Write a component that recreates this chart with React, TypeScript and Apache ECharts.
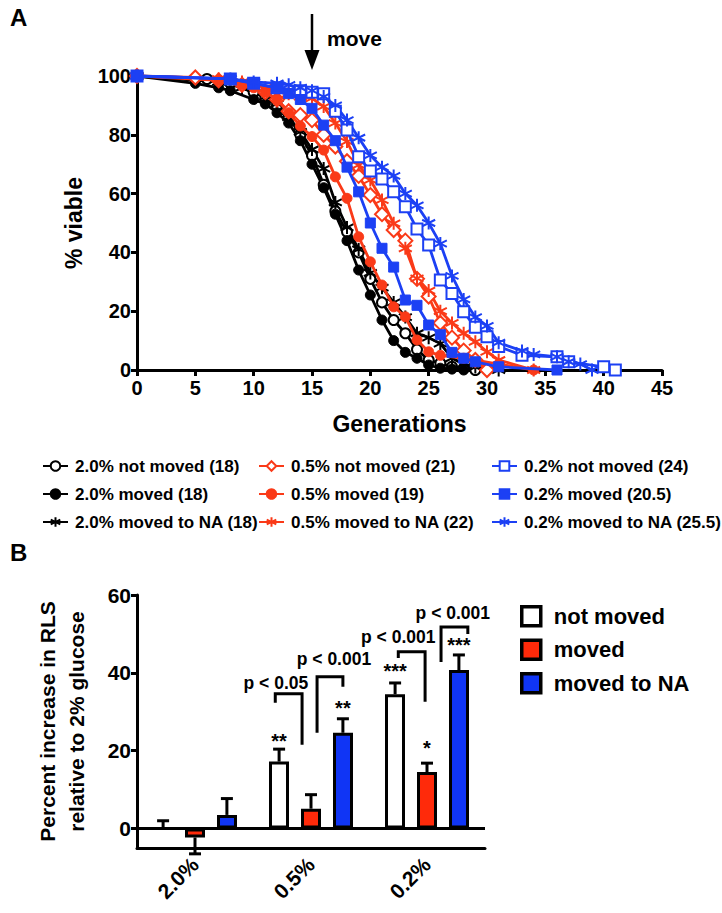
import React, { useEffect, useRef } from "react";
import * as echarts from "echarts";

const FONT = "Liberation Sans, Arial, Helvetica, sans-serif";
const RED = "#fa3a18";
const BLUE = "#1c40f4";
const BLACK = "#000000";
const BAR_RED = "#ff2a0a";
const BAR_BLUE = "#1035f5";

// ---------- Panel A: survival curves [generation, % viable] ----------
const g20NotMoved = [[0,100],[6,99],[8,97.5],[10,94.5],[11,92.5],[12,90],[13,86],[14,80],[15,73],[16,63],[17,54],[18,47],[19,40],[20,31],[21,23],[22,17],[23,12.5],[24,7],[25,3.4],[26,2.3],[27,1.1],[28,0.6],[29,0]];
const g20Moved = [[0,100],[5,97.5],[7,96],[8,95],[10,92],[11,90.5],[12,87.5],[13,84],[14,78],[15,70],[16,62],[17,53],[18,44],[19,34],[20,25.5],[21,17],[22,10],[23,6],[24,4],[25,1.7],[26,0.6],[27,0.3],[28,0]];
const g20NA = [[0,100],[7,98],[9,96],[11,93],[12,90.5],[13,86],[14,81],[15,75],[16,68.5],[17,57],[18,48.5],[19,41],[20,33],[21,28],[22,23],[23,18],[24,12.5],[25,11],[26,9],[27,4],[28,2],[29,1],[31,0]];
const g05NotMoved = [[0,100],[5,99.5],[7,98.5],[9,97],[11,94.5],[12,92],[13,88],[14,86.7],[15,85],[16,80],[17,76],[18,71],[19,66],[20,59.5],[21,53],[22,47.6],[23,44],[24,31],[25,25],[26,16],[27,11],[28,6.6],[29,3.4],[30,0]];
const g05Moved = [[0,100],[7,98.5],[9,97],[10,96],[11,94.5],[12,92],[13,87.5],[14,83],[15,79.4],[16,74.8],[17,65.7],[18,58.4],[19,45.3],[20,36.8],[21,28.9],[22,21.5],[23,18.1],[24,10.2],[25,6.2],[26,5],[28,4],[31,2],[34,0]];
const g05NA = [[0,100],[7,99],[9,98],[11,96],[12,95],[13,94],[14,93],[15,92.4],[16,89.6],[17,84],[18,77.7],[19,69.7],[20,64.6],[21,57.8],[22,49.9],[23,41.4],[24,31.2],[25,27],[26,20],[27,16],[28,12.5],[29,9.6],[30,6.2],[31,3.4],[34,0]];
const g02NotMoved = [[0,100],[8,99],[10,97.5],[12,96],[14,95],[15,94.5],[16,94],[17,88],[18,81.6],[19,72.5],[20,67.7],[21,65],[22,60.6],[23,55.5],[24,48],[25,42.5],[26,30.6],[27,26],[28,19.8],[29,14.5],[30,11.3],[31,8],[33,5],[36,4.5],[37,2.8],[40,1.1],[41,0]];
const g02Moved = [[0,100],[8,99],[10,97.5],[12,96],[13,94],[14,92],[15,89],[16,83.3],[17,78],[18,69],[19,60.6],[20,50],[21,41.4],[22,35],[23,23.8],[24,22],[25,15.3],[26,12],[27,6],[28,4],[29,2.8],[31,1.1],[36,0]];
const g02NA = [[0,100],[8,99],[10,98],[12,97.5],[13,97],[14,96],[15,95],[16,93],[17,90],[18,85],[19,79],[20,73],[21,69],[22,66],[23,60],[24,56],[25,50],[26,43],[27,32],[28,24],[29,18],[30,15],[31,9.3],[33,6.5],[34,5.3],[36,4.5],[37,2.8],[38,2],[39,0]];

const namesA = [
  "2.0% not moved (18)", "2.0% moved (18)", "2.0% moved to NA (18)",
  "0.5% not moved (21)", "0.5% moved (19)", "0.5% moved to NA (22)",
  "0.2% not moved (24)", "0.2% moved (20.5)", "0.2% moved to NA (25.5)",
];
const moveAt = 15; // generation of the move arrow

// ---------- Panel B: bars ----------
const bCategories = ["2.0%", "0.5%", "0.2%"];
const bNames = ["not moved", "moved", "moved to NA"];
const bNotMoved = [0, 17.2, 34.5];
const bNotMovedTip = [2.0, 20.4, 37.4];
const bMoved = [-2.3, 5.1, 14.5];
const bMovedTip = [-6.5, 8.7, 16.8];
const bNA = [3.5, 24.6, 40.7];
const bNATip = [7.7, 28.2, 44.6];
const bTicks = [0, 20, 40, 60];
// stars: [category, bar slot (-1,0,1), y, text]
const bStars = [[1, -1, 22.6, "**"], [1, 1, 31, "**"], [2, -1, 40.6, "***"], [2, 0, 20.6, "*"], [2, 1, 47.2, "***"]];
// brackets: [category, left slot, right slot, left end y, top y, right end y, label y, label slot, label]
const bBrackets = [
  [1, -1.12, -0.28, 32.3, 34.6, 21.5, 37.3, -1.1, "p < 0.05"],
  [1, 0.19, 1.0, 24.6, 39.0, 36.4, 43.5, 0.72, "p < 0.001"],
  [2, -0.9, -0.06, 43.8, 45.4, 32.6, 49.1, -0.9, "p < 0.001"],
  [2, 0.44, 1.28, 42.8, 51.8, 50.0, 55.3, 0.81, "p < 0.001"],
];

const ASTERISK = "path://M10,0L10,20M1.34,5L18.66,15M1.34,15L18.66,5";

function mkLine(name: string, data: number[][], color: string, symbol: string, size: number, bw: number, z: number) {
  return {
    type: "line", name, data, xAxisIndex: 0, yAxisIndex: 0,
    symbol, symbolSize: size, showSymbol: true, color,
    lineStyle: { color, width: 2.8 },
    itemStyle: { color, borderColor: color, borderWidth: bw },
    emphasis: { disabled: true }, z,
  };
}

export default function App() {
  const ref = useRef<HTMLDivElement>(null);
  useEffect(() => {
    if (!ref.current) return;
    const chart = echarts.init(ref.current, null, { renderer: "svg" });
    const bold = { fontFamily: FONT, fontWeight: "bold" as const, color: BLACK };

    const slotPx = (api: any) => api.size([1, 0])[0] * 0.275;

    const errSeries = (vals: number[], tips: number[], slot: number) => ({
      type: "custom", xAxisIndex: 1, yAxisIndex: 1, clip: false, z: 1, silent: true,
      data: vals.map((v, i) => [i, v, tips[i]]),
      encode: { x: 0, y: [1, 2] },
      renderItem: (params: any, api: any) => {
        const c = api.value(0);
        const b = api.coord([c, api.value(1)]);
        const t = api.coord([c, api.value(2)]);
        const x = b[0] + slot * slotPx(api);
        const st = { stroke: BLACK, lineWidth: 3 };
        return { type: "group", children: [
          { type: "line", shape: { x1: x, y1: b[1], x2: x, y2: t[1] }, style: st },
          { type: "line", shape: { x1: x - 6, y1: t[1], x2: x + 6, y2: t[1] }, style: st },
        ] };
      },
    });

    const option: any = {
      animation: false,
      backgroundColor: "#fff",
      textStyle: { fontFamily: FONT },
      grid: [
        { left: 137, top: 76, width: 525, height: 294 },
        { left: 137, top: 595, width: 348, height: 253 },
      ],
      xAxis: [
        {
          type: "value", gridIndex: 0, min: 0, max: 45, interval: 5,
          axisLine: { onZero: false, lineStyle: { color: BLACK, width: 3 } },
          axisTick: { length: 6, lineStyle: { color: BLACK, width: 3 } },
          axisLabel: { ...bold, fontSize: 20, margin: 8 },
          splitLine: { show: false },
          name: "Generations", nameLocation: "middle", nameGap: 42,
          nameTextStyle: { ...bold, fontSize: 23 },
        },
        {
          type: "category", gridIndex: 1, data: bCategories,
          axisLine: { onZero: false, lineStyle: { color: BLACK, width: 3 } },
          axisTick: { alignWithLabel: true, length: 6, lineStyle: { color: BLACK, width: 3 } },
          axisLabel: { ...bold, fontSize: 21, rotate: 45, margin: 13 },
        },
      ],
      yAxis: [
        {
          type: "value", gridIndex: 0, min: 0, max: 100, interval: 20,
          axisLine: { show: true, lineStyle: { color: BLACK, width: 3 } },
          axisTick: { show: true, length: 6, lineStyle: { color: BLACK, width: 3 } },
          axisLabel: { ...bold, fontSize: 20, margin: 6 },
          splitLine: { show: false },
          name: "% viable", nameLocation: "middle", nameGap: 52,
          nameTextStyle: { ...bold, fontSize: 23 },
        },
        {
          type: "value", gridIndex: 1, min: -5, max: 60,
          axisLine: { show: true, lineStyle: { color: BLACK, width: 3 } },
          axisTick: { show: true, length: 6, customValues: bTicks, lineStyle: { color: BLACK, width: 3 } },
          axisLabel: { ...bold, fontSize: 21, margin: 6, customValues: bTicks },
          splitLine: { show: false },
          name: "Percent increase in RLS\nrelative to 2% glucose", nameLocation: "middle", nameGap: 46,
          nameTextStyle: { ...bold, fontSize: 21, lineHeight: 29 },
        },
      ],
      legend: [
        ...[0, 1, 2].map((col) => ({
          data: namesA.slice(col * 3, col * 3 + 3),
          orient: "vertical", left: [37, 253, 486][col], top: 451,
          itemWidth: 25, itemHeight: 12, itemGap: 8,
          selectedMode: false,
          textStyle: { ...bold, fontSize: 17, lineHeight: 20, padding: [0, 0, 0, 2] },
        })),
        {
          data: bNames.map((n) => ({ name: n, icon: "rect" })), orient: "vertical", left: 515, top: 600,
          itemWidth: 19, itemHeight: 19, itemGap: 11, selectedMode: false,
          itemStyle: { borderColor: BLACK, borderWidth: 3.5 },
          textStyle: { ...bold, fontSize: 22, lineHeight: 19, padding: [0, 0, 0, 8] },
        },
      ],
      series: [
        mkLine(namesA[0], g20NotMoved, BLACK, "emptyCircle", 10, 2, 3),
        mkLine(namesA[1], g20Moved, BLACK, "circle", 10, 1, 3),
        mkLine(namesA[2], g20NA, BLACK, ASTERISK, 13, 2, 3),
        mkLine(namesA[3], g05NotMoved, RED, "emptyDiamond", 14, 2, 4),
        mkLine(namesA[4], g05Moved, RED, "circle", 10, 1, 4),
        mkLine(namesA[5], g05NA, RED, ASTERISK, 13, 2, 4),
        mkLine(namesA[6], g02NotMoved, BLUE, "emptyRect", 11, 2, 5),
        mkLine(namesA[7], g02Moved, BLUE, "rect", 10, 1, 5),
        mkLine(namesA[8], g02NA, BLUE, ASTERISK, 13, 2, 5),
        errSeries(bNotMoved, bNotMovedTip, -1),
        errSeries(bMoved, bMovedTip, 0),
        errSeries(bNA, bNATip, 1),
        {
          type: "bar", name: bNames[0], data: bNotMoved, xAxisIndex: 1, yAxisIndex: 1,
          barWidth: 20, barGap: "60%", z: 2,
          itemStyle: { color: "#ffffff", borderColor: BLACK, borderWidth: 3 },
          emphasis: { disabled: true },
          markLine: {
            silent: true, symbol: "none", label: { show: false },
            lineStyle: { color: BLACK, width: 3, type: "solid" },
            data: [{ yAxis: 0 }],
          },
        },
        {
          type: "bar", name: bNames[1], data: bMoved, xAxisIndex: 1, yAxisIndex: 1,
          barWidth: 20, barGap: "60%", z: 2,
          itemStyle: { color: BAR_RED, borderColor: BLACK, borderWidth: 3 },
          emphasis: { disabled: true },
        },
        {
          type: "bar", name: bNames[2], data: bNA, xAxisIndex: 1, yAxisIndex: 1,
          barWidth: 20, barGap: "60%", z: 2,
          itemStyle: { color: BAR_BLUE, borderColor: BLACK, borderWidth: 3 },
          emphasis: { disabled: true },
        },
        {
          type: "custom", xAxisIndex: 1, yAxisIndex: 1, clip: false, z: 6, silent: true,
          data: bStars,
          encode: { x: 0, y: 2 },
          renderItem: (params: any, api: any) => {
            const item = bStars[params.dataIndex];
            const p = api.coord([item[0], item[2]]);
            return {
              type: "text", x: p[0] + (item[1] as number) * slotPx(api), y: p[1],
              style: { text: item[3], fontFamily: FONT, fontWeight: "bold", fontSize: 20, fill: BLACK, align: "center", verticalAlign: "middle" },
            };
          },
        },
        {
          type: "custom", xAxisIndex: 1, yAxisIndex: 1, clip: false, z: 6, silent: true,
          data: bBrackets.map((b) => [b[0], b[4]]),
          encode: { x: 0, y: 1 },
          renderItem: (params: any, api: any) => {
            const b = bBrackets[params.dataIndex] as any[];
            const s = slotPx(api);
            const c = api.coord([b[0], 0])[0];
            const xl = c + b[1] * s, xr = c + b[2] * s;
            const yl = api.coord([b[0], b[3]])[1];
            const yt = api.coord([b[0], b[4]])[1];
            const yr = api.coord([b[0], b[5]])[1];
            const ylab = api.coord([b[0], b[6]])[1];
            return { type: "group", children: [
              { type: "polyline", shape: { points: [[xl, yl], [xl, yt], [xr, yt], [xr, yr]] }, style: { stroke: BLACK, lineWidth: 3, fill: "none" } },
              { type: "text", x: c + b[7] * s, y: ylab, style: { text: b[8], fontFamily: FONT, fontWeight: "bold", fontSize: 17.5, fill: BLACK, align: "center", verticalAlign: "middle" } },
            ] };
          },
        },
      ],
    };
    chart.setOption(option);

    const mx = chart.convertToPixel({ xAxisIndex: 0 }, moveAt) as number;
    chart.setOption({
      graphic: [
        { type: "text", left: 10, top: 5, style: { text: "A", fontFamily: FONT, fontWeight: "bold", fontSize: 24, fill: BLACK } },
        { type: "text", left: 10, top: 540, style: { text: "B", fontFamily: FONT, fontWeight: "bold", fontSize: 24, fill: BLACK } },
        { type: "line", shape: { x1: mx, y1: 14, x2: mx, y2: 55 }, style: { stroke: BLACK, lineWidth: 2.5 } },
        { type: "polygon", shape: { points: [[mx - 7.5, 50], [mx + 7.5, 50], [mx, 70]] }, style: { fill: BLACK } },
        { type: "text", x: mx + 15, y: 38, style: { text: "move", fontFamily: FONT, fontWeight: "bold", fontSize: 21, fill: BLACK, verticalAlign: "middle" } },
      ],
    });
    return () => chart.dispose();
  }, []);
  return <div ref={ref} style={{ position: "absolute", left: 0, top: 0, width: 722, height: 913, background: "#fff" }} />;
}
